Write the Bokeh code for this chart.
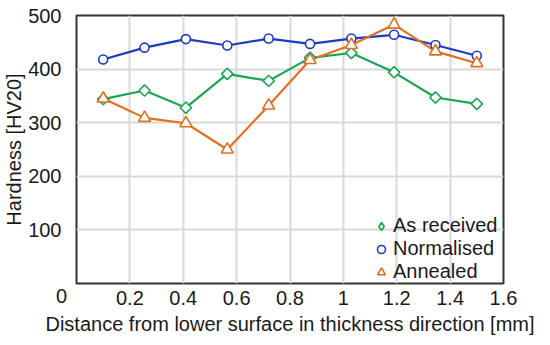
import numpy as np
from bokeh.plotting import figure
from bokeh.models import Legend, LegendItem, FixedTicker, ColumnDataSource, Label
from bokeh.embed import file_html
from bokeh.resources import INLINE

distance = [0.1, 0.255, 0.41, 0.565, 0.72, 0.875, 1.03, 1.19, 1.345, 1.5]
as_received = [344, 360, 328, 391, 378, 421, 430, 394, 347, 335]
normalised = [418, 440, 456, 444, 457, 447, 457, 464, 445, 425]
annealed = [345, 309, 299, 250, 332, 417, 445, 483, 433, 411]

series_names = ["As received", "Normalised", "Annealed"]
x_ticks = [0.2, 0.4, 0.6, 0.8, 1.0, 1.2, 1.4, 1.6]
y_ticks = [100, 200, 300, 400, 500]

FONT = "Liberation Sans"
FS = "20px"

p = figure(width=534, height=341, x_range=(0, 1.6), y_range=(0, 500),
           output_backend="svg", toolbar_location=None,
           min_border_left=69, min_border_right=31, min_border_top=15, min_border_bottom=58)

p.outline_line_color = "#333333"
p.outline_line_width = 2
p.background_fill_color = "white"
p.border_fill_color = "white"

for ax in (p.xaxis[0], p.yaxis[0]):
    ax.axis_line_color = None
    ax.major_tick_line_color = None
    ax.minor_tick_line_color = None
    ax.major_label_text_font = FONT
    ax.major_label_text_font_size = FS
    ax.major_label_text_color = "#1a1a1a"
    ax.axis_label_text_font = FONT
    ax.axis_label_text_font_size = FS
    ax.axis_label_text_font_style = "normal"
    ax.axis_label_text_color = "#1a1a1a"

p.xaxis.ticker = FixedTicker(ticks=x_ticks)
p.yaxis.ticker = FixedTicker(ticks=y_ticks)
p.xaxis.major_label_overrides = {1.0: "1"}
p.xaxis.major_label_standoff = 1
p.yaxis.major_label_standoff = 9
p.xaxis.axis_label = "Distance from lower surface in thickness direction [mm]"
p.yaxis.axis_label = "Hardness [HV20]"
p.xaxis.axis_label_standoff = 5
p.yaxis.axis_label_standoff = 0

p.grid.grid_line_color = "#d9d9d9"
p.grid.grid_line_width = 2

green = "#1aa552"
blue = "#1a3cc0"
orange = "#e0701e"

src = ColumnDataSource(dict(x=distance, ar=as_received, no=normalised, an=annealed))

p.line("x", "no", source=src, line_color=blue, line_width=2.2)
p.line("x", "ar", source=src, line_color=green, line_width=2.2)
p.line("x", "an", source=src, line_color=orange, line_width=2.2)

p.scatter("x", "ar", source=src, marker="square", angle=np.pi / 4, size=8,
          fill_color="white", line_color=green, line_width=1.6)
r_no = p.scatter("x", "no", source=src, marker="circle", size=9,
                 fill_color="white", line_color=blue, line_width=1.6)
r_an = p.scatter("x", "an", source=src, marker="triangle", size=12,
                 fill_color="white", line_color=orange, line_width=1.6)

# legend-only glyph for the diamond (legend ignores marker angle)
r_ar_leg = p.scatter(x=[np.nan], y=[np.nan], marker="diamond", size=8,
                     fill_color="white", line_color=green, line_width=1.6)

legend = Legend(items=[LegendItem(label=series_names[0], renderers=[r_ar_leg]),
                       LegendItem(label=series_names[1], renderers=[r_no]),
                       LegendItem(label=series_names[2], renderers=[r_an])],
                location=(295, 0), padding=0, spacing=0, margin=0,
                glyph_width=20, glyph_height=22, label_height=22, label_standoff=2,
                label_text_font=FONT, label_text_font_size=FS, label_text_color="#1a1a1a",
                background_fill_alpha=0, border_line_color=None)
p.add_layout(legend, "center")

# shared origin label "0" at the lower-left corner; hosted in the (otherwise empty)
# top side panel so it is not clipped to the frame, positioned in data units
p.add_layout(Label(x=0, y=0, text="0", x_offset=-15, y_offset=-5,
                   text_align="center", text_baseline="top",
                   text_font=FONT, text_font_size=FS, text_color="#1a1a1a"), "above")

open("out.html", "w").write(file_html(p, INLINE))
